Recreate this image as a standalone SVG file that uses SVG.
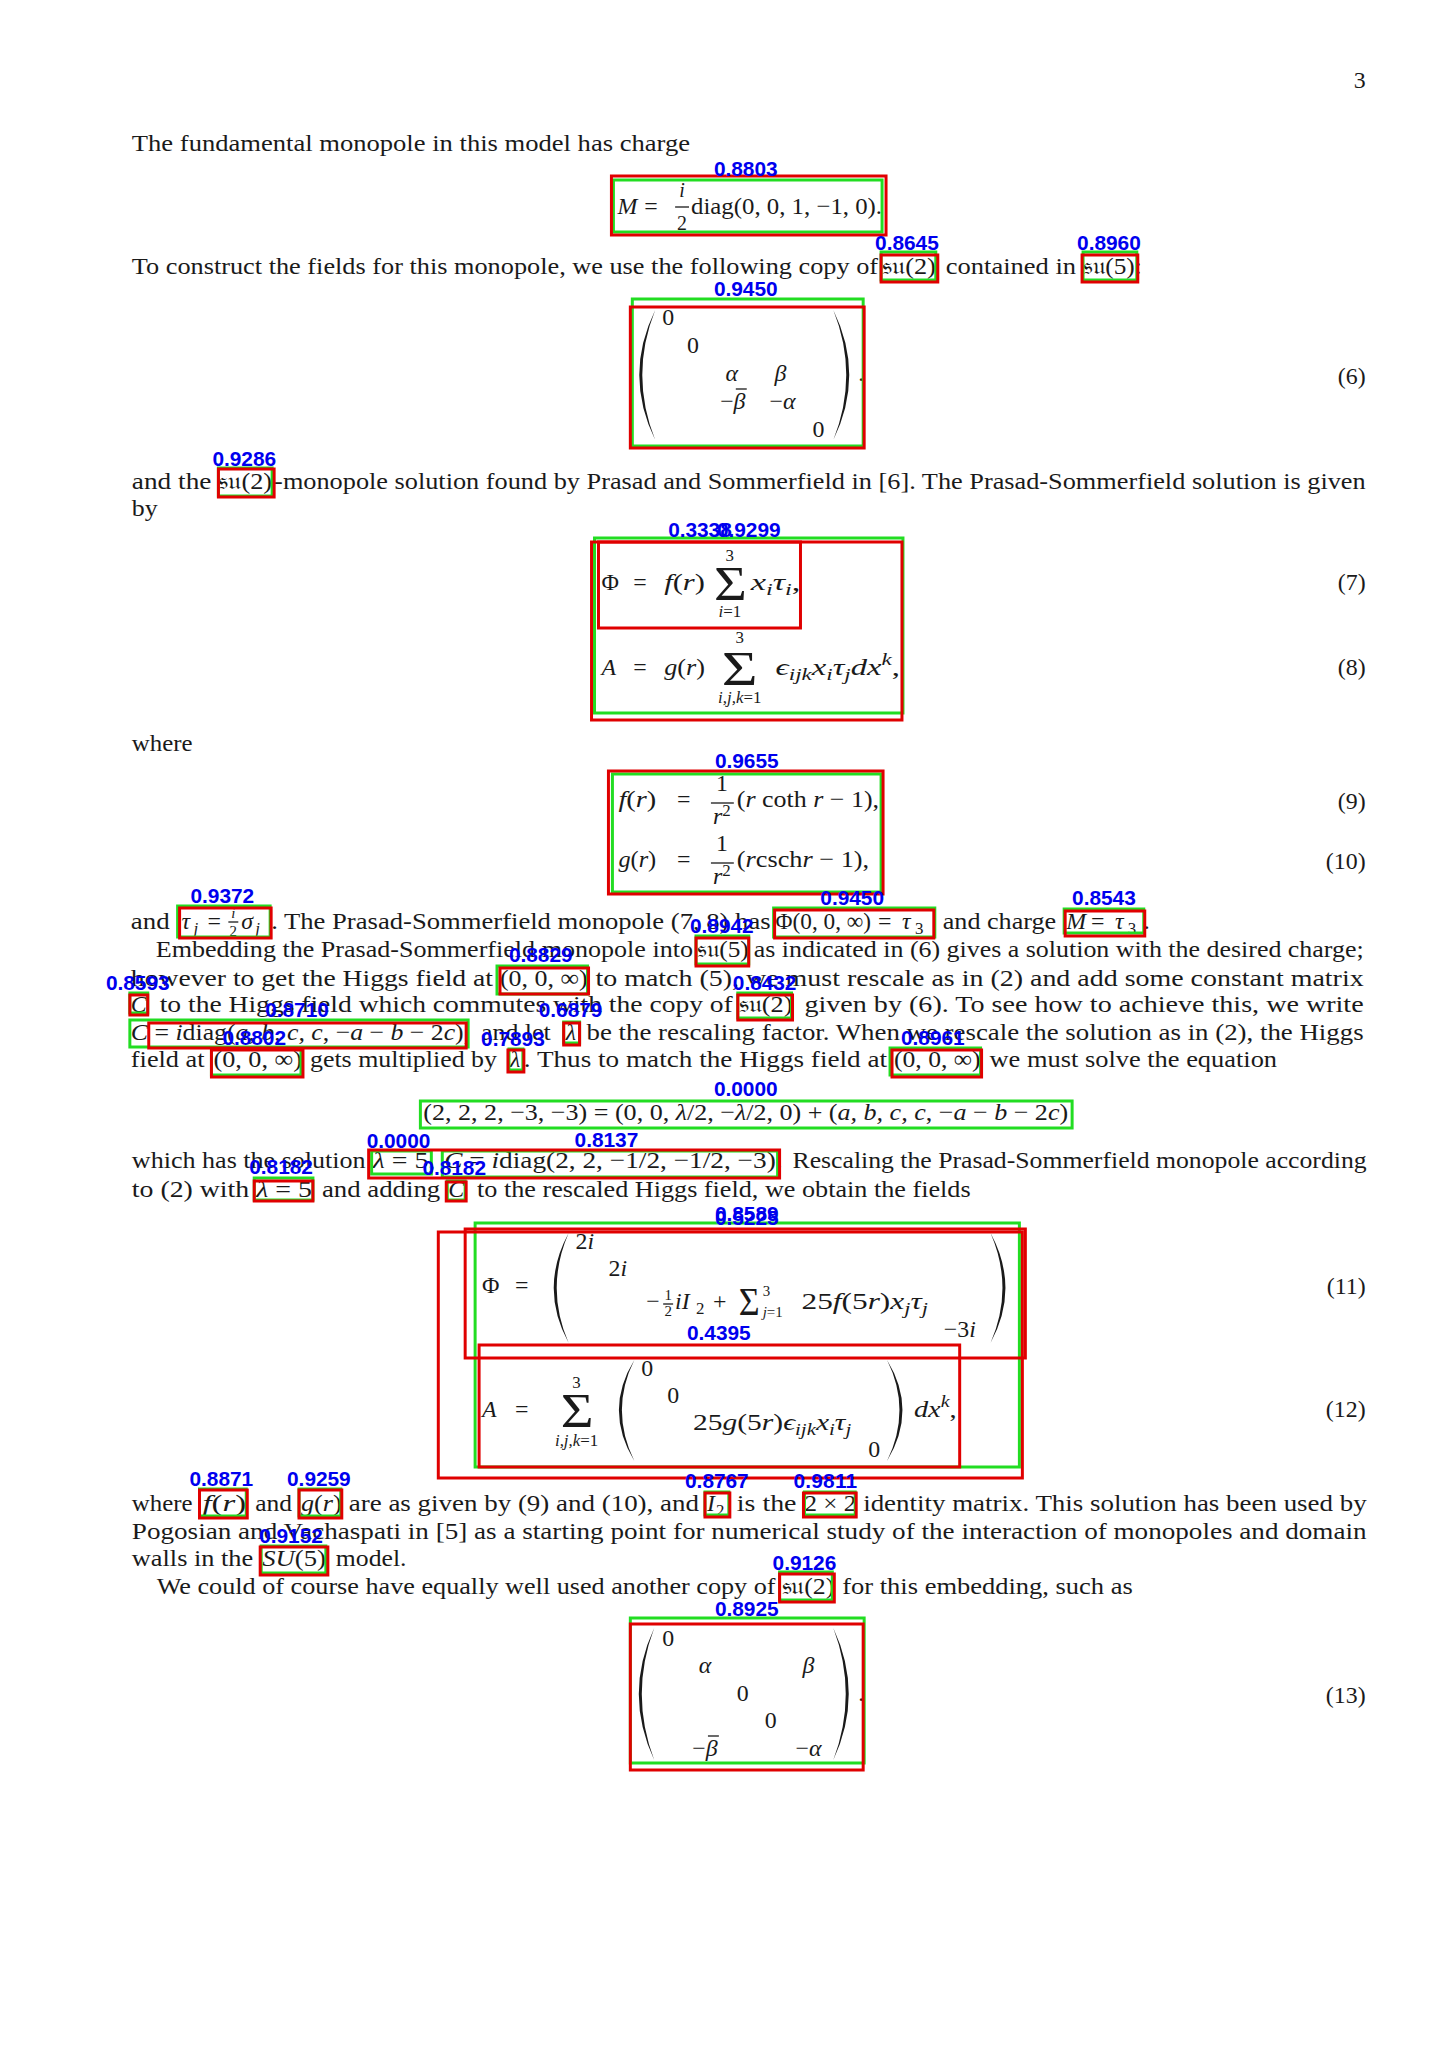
<svg xmlns="http://www.w3.org/2000/svg" width="1447" height="2048" viewBox="0 0 1447 2048">
<style>
.t{font-family:"Liberation Serif","DejaVu Serif","Noto Sans",serif;font-size:24px;fill:#1a1a1a}
.i{font-style:italic}
.sm{font-size:17px}
.xs{font-size:15px}
.m{text-anchor:middle}
.e{text-anchor:end}
.lb{font-family:"Liberation Sans",Arial,sans-serif;font-weight:bold;font-size:21px;fill:#0000ee;text-anchor:middle}
.r{fill:none;stroke:#e00000;stroke-width:3}
.g{fill:none;stroke:#22dd22;stroke-width:3}
.bar{stroke:#1a1a1a;stroke-width:1.3}
.p{fill:#1a1a1a}
</style>
<rect width="1447" height="2048" fill="#ffffff"/>
<g id="page" transform="matrix(0.995,0,0,1,0.5,0)">

<g id="page-number"><text class="t e" x="1372" y="88">3</text></g>

<g id="text-lines">
<text class="t" x="132" y="151" textLength="561" lengthAdjust="spacingAndGlyphs">The fundamental monopole in this model has charge</text>
<text class="t" x="132" y="274" textLength="750" lengthAdjust="spacingAndGlyphs">To construct the fields for this monopole, we use the following copy of</text>
<text class="t" x="886" y="274" textLength="54" lengthAdjust="spacingAndGlyphs">𝔰𝔲(2)</text>
<text class="t" x="950" y="274" textLength="131" lengthAdjust="spacingAndGlyphs">contained in</text>
<text class="t" x="1088" y="274" textLength="59" lengthAdjust="spacingAndGlyphs">𝔰𝔲(5):</text>

<text class="t" x="132" y="489" textLength="80" lengthAdjust="spacingAndGlyphs">and the</text>
<text class="t" x="219" y="489" textLength="54" lengthAdjust="spacingAndGlyphs">𝔰𝔲(2)</text>
<text class="t" x="275" y="489" textLength="1097" lengthAdjust="spacingAndGlyphs">-monopole solution found by Prasad and Sommerfield in [6]. The Prasad-Sommerfield solution is given</text>
<text class="t" x="132" y="516" textLength="26" lengthAdjust="spacingAndGlyphs">by</text>

<text class="t" x="132" y="751" textLength="61" lengthAdjust="spacingAndGlyphs">where</text>

<!-- paragraph row A -->
<text class="t" x="131" y="929" textLength="39" lengthAdjust="spacingAndGlyphs">and</text>
<text class="t i" x="182" y="929">τ</text><text class="t i sm" x="194" y="934">j</text>
<text class="t" x="208" y="929">=</text>
<text class="t i xs m" x="234" y="918">i</text><line class="bar" x1="229" y1="922" x2="239" y2="922"/><text class="t xs m" x="234" y="936">2</text>
<text class="t i" x="242" y="929">σ</text><text class="t i sm" x="256" y="934">j</text>
<text class="t" x="272" y="929" textLength="502" lengthAdjust="spacingAndGlyphs">. The Prasad-Sommerfield monopole (7, 8) has</text>
<text class="t" x="779" y="929" textLength="96" lengthAdjust="spacingAndGlyphs">Φ(0, 0, ∞)</text>
<text class="t" x="882" y="929">=</text>
<text class="t i" x="906" y="929">τ</text><text class="t sm" x="919" y="934">3</text>
<text class="t" x="947" y="929" textLength="114" lengthAdjust="spacingAndGlyphs">and charge</text>
<text class="t i" x="1071" y="929">M</text>
<text class="t" x="1096" y="929">=</text>
<text class="t i" x="1120" y="929">τ</text><text class="t sm" x="1133" y="934">3</text>
<text class="t" x="1149" y="929">.</text>

<!-- row B -->
<text class="t" x="156" y="957" textLength="540" lengthAdjust="spacingAndGlyphs">Embedding the Prasad-Sommerfield monopole into</text>
<text class="t" x="700" y="957" textLength="52" lengthAdjust="spacingAndGlyphs">𝔰𝔲(5)</text>
<text class="t" x="757" y="957" textLength="613" lengthAdjust="spacingAndGlyphs">as indicated in (6) gives a solution with the desired charge;</text>

<!-- row C -->
<text class="t" x="131" y="986" textLength="364" lengthAdjust="spacingAndGlyphs">however to get the Higgs field at</text>
<text class="t" x="502" y="986" textLength="88" lengthAdjust="spacingAndGlyphs">(0, 0, ∞)</text>
<text class="t" x="598" y="986" textLength="772" lengthAdjust="spacingAndGlyphs">to match (5), we must rescale as in (2) and add some constant matrix</text>

<!-- row D -->
<text class="t i" x="131" y="1012">C</text>
<text class="t" x="160" y="1012" textLength="576" lengthAdjust="spacingAndGlyphs">to the Higgs field which commutes with the copy of</text>
<text class="t" x="742" y="1012" textLength="54" lengthAdjust="spacingAndGlyphs">𝔰𝔲(2)</text>
<text class="t" x="808" y="1012" textLength="562" lengthAdjust="spacingAndGlyphs">given by (6).  To see how to achieve this, we write</text>

<!-- row E -->
<text class="t" x="131" y="1040" textLength="341" lengthAdjust="spacingAndGlyphs"><tspan class="i">C</tspan> = <tspan class="i">i</tspan>diag(<tspan class="i">a, b, c, c</tspan>, −<tspan class="i">a</tspan> − <tspan class="i">b</tspan> − 2<tspan class="i">c</tspan>),</text>
<text class="t" x="483" y="1040" textLength="70" lengthAdjust="spacingAndGlyphs">and let</text>
<text class="t i" x="568" y="1040">λ</text>
<text class="t" x="589" y="1040" textLength="781" lengthAdjust="spacingAndGlyphs">be the rescaling factor. When we rescale the solution as in (2), the Higgs</text>

<!-- row F -->
<text class="t" x="131" y="1067" textLength="74" lengthAdjust="spacingAndGlyphs">field at</text>
<text class="t" x="214" y="1067" textLength="89" lengthAdjust="spacingAndGlyphs">(0, 0, ∞)</text>
<text class="t" x="311" y="1067" textLength="188" lengthAdjust="spacingAndGlyphs">gets multiplied by</text>
<text class="t i" x="512" y="1067">λ</text>
<text class="t" x="526" y="1067" textLength="365" lengthAdjust="spacingAndGlyphs">. Thus to match the Higgs field at</text>
<text class="t" x="898" y="1067" textLength="87" lengthAdjust="spacingAndGlyphs">(0, 0, ∞)</text>
<text class="t" x="994" y="1067" textLength="289" lengthAdjust="spacingAndGlyphs">we must solve the equation</text>

<!-- row G -->
<text class="t" x="132" y="1168" textLength="235" lengthAdjust="spacingAndGlyphs">which has the solution</text>
<text class="t" x="374" y="1168" textLength="63" lengthAdjust="spacingAndGlyphs"><tspan class="i">λ</tspan> = 5,</text>
<text class="t" x="446" y="1168" textLength="340" lengthAdjust="spacingAndGlyphs"><tspan class="i">C</tspan> = <tspan class="i">i</tspan>diag(2, 2, −1/2, −1/2, −3).</text>
<text class="t" x="796" y="1168" textLength="577" lengthAdjust="spacingAndGlyphs">Rescaling the Prasad-Sommerfield monopole according</text>

<!-- row H -->
<text class="t" x="132" y="1197" textLength="118" lengthAdjust="spacingAndGlyphs">to (2) with</text>
<text class="t" x="257" y="1197" textLength="56" lengthAdjust="spacingAndGlyphs"><tspan class="i">λ</tspan> = 5</text>
<text class="t" x="323" y="1197" textLength="119" lengthAdjust="spacingAndGlyphs">and adding</text>
<text class="t i" x="450" y="1197">C</text>
<text class="t" x="479" y="1197" textLength="496" lengthAdjust="spacingAndGlyphs">to the rescaled Higgs field, we obtain the fields</text>

<!-- row I -->
<text class="t" x="132" y="1511" textLength="61" lengthAdjust="spacingAndGlyphs">where</text>
<text class="t" x="203" y="1511" textLength="44" lengthAdjust="spacingAndGlyphs"><tspan class="i">f</tspan>(<tspan class="i">r</tspan>)</text>
<text class="t" x="256" y="1511" textLength="37" lengthAdjust="spacingAndGlyphs">and</text>
<text class="t" x="302" y="1511" textLength="41" lengthAdjust="spacingAndGlyphs"><tspan class="i">g</tspan>(<tspan class="i">r</tspan>)</text>
<text class="t" x="350" y="1511" textLength="352" lengthAdjust="spacingAndGlyphs">are as given by (9) and (10), and</text>
<text class="t i" x="710" y="1511">I</text><text class="t sm" x="719" y="1516">2</text>
<text class="t" x="740" y="1511" textLength="60" lengthAdjust="spacingAndGlyphs">is the</text>
<text class="t" x="808" y="1511" textLength="52" lengthAdjust="spacingAndGlyphs">2 × 2</text>
<text class="t" x="867" y="1511" textLength="506" lengthAdjust="spacingAndGlyphs">identity matrix. This solution has been used by</text>

<!-- row J -->
<text class="t" x="132" y="1539" textLength="1241" lengthAdjust="spacingAndGlyphs">Pogosian and Vachaspati in [5] as a starting point for numerical study of the interaction of monopoles and domain</text>

<!-- row K -->
<text class="t" x="132" y="1566" textLength="122" lengthAdjust="spacingAndGlyphs">walls in the</text>
<text class="t" x="263" y="1566" textLength="64" lengthAdjust="spacingAndGlyphs"><tspan class="i">SU</tspan>(5)</text>
<text class="t" x="337" y="1566" textLength="71" lengthAdjust="spacingAndGlyphs">model.</text>

<!-- row L -->
<text class="t" x="157" y="1594" textLength="622" lengthAdjust="spacingAndGlyphs">We could of course have equally well used another copy of</text>
<text class="t" x="785" y="1594" textLength="53" lengthAdjust="spacingAndGlyphs">𝔰𝔲(2)</text>
<text class="t" x="846" y="1594" textLength="292" lengthAdjust="spacingAndGlyphs">for this embedding, such as</text>
</g>

<g id="eq-charge">
<text class="t i" x="620" y="214">M</text>
<text class="t" x="647" y="214">=</text>
<text class="t i m" x="685" y="197" style="font-size:20px">i</text>
<line class="bar" x1="678" y1="207" x2="692" y2="207"/>
<text class="t m" x="685" y="230" style="font-size:20px">2</text>
<text class="t" x="694" y="214" textLength="192" lengthAdjust="spacingAndGlyphs">diag(0, 0, 1, −1, 0).</text>
</g>

<g id="eq-6">
<path class="p" d="M658,310 Q626,375 658,440 Q632,375 658,310 Z"/>
<path class="p" d="M837,310 Q869,375 837,440 Q863,375 837,310 Z"/>
<text class="t m" x="671" y="325">0</text>
<text class="t m" x="696" y="353">0</text>
<text class="t i m" x="735" y="381">α</text>
<text class="t i m" x="784" y="381">β</text>
<text class="t m" x="736" y="409"><tspan>−</tspan><tspan class="i">β</tspan></text>
<line class="bar" x1="739" y1="389" x2="750" y2="389"/>
<text class="t m" x="786" y="409"><tspan>−</tspan><tspan class="i">α</tspan></text>
<text class="t m" x="822" y="437">0</text>
<text class="t" x="862" y="381">.</text>
<text class="t e" x="1372" y="384">(6)</text>
</g>

<g id="eq-7-8">
<text class="t" x="604" y="590">Φ</text>
<text class="t" x="636" y="590">=</text>
<text class="t" x="667" y="590" textLength="41" lengthAdjust="spacingAndGlyphs"><tspan class="i">f</tspan>(<tspan class="i">r</tspan>)</text>
<text class="t" x="717" y="600" style="font-size:48px" textLength="33" lengthAdjust="spacingAndGlyphs">Σ</text>
<text class="t sm m" x="733" y="561">3</text>
<text class="t i sm m" x="733" y="617">i<tspan font-style="normal">=1</tspan></text>
<text class="t" x="754" y="590" textLength="50" lengthAdjust="spacingAndGlyphs"><tspan class="i">x</tspan><tspan class="i sm" dy="5">i</tspan><tspan class="i" dy="-5">τ</tspan><tspan class="i sm" dy="5">i</tspan><tspan dy="-5">,</tspan></text>
<text class="t e" x="1372" y="590">(7)</text>

<text class="t i" x="604" y="675">A</text>
<text class="t" x="636" y="675">=</text>
<text class="t" x="667" y="675" textLength="41" lengthAdjust="spacingAndGlyphs"><tspan class="i">g</tspan>(<tspan class="i">r</tspan>)</text>
<text class="t" x="725" y="685" style="font-size:48px" textLength="36" lengthAdjust="spacingAndGlyphs">Σ</text>
<text class="t sm m" x="743" y="643">3</text>
<text class="t i sm m" x="743" y="703">i,j,k<tspan font-style="normal">=1</tspan></text>
<text class="t" x="779" y="675" textLength="125" lengthAdjust="spacingAndGlyphs"><tspan class="i">ϵ</tspan><tspan class="i sm" dy="5">ijk</tspan><tspan class="i" dy="-5">x</tspan><tspan class="i sm" dy="5">i</tspan><tspan class="i" dy="-5">τ</tspan><tspan class="i sm" dy="5">j</tspan><tspan class="i" dy="-5">dx</tspan><tspan class="i sm" dy="-10">k</tspan><tspan dy="10">,</tspan></text>
<text class="t e" x="1372" y="675">(8)</text>
</g>

<g id="eq-9-10">
<text class="t" x="621" y="807" textLength="38" lengthAdjust="spacingAndGlyphs"><tspan class="i">f</tspan>(<tspan class="i">r</tspan>)</text>
<text class="t" x="680" y="807">=</text>
<text class="t m" x="725" y="791">1</text>
<line class="bar" x1="714" y1="803" x2="737" y2="803"/>
<text class="t m" x="725" y="824"><tspan class="i">r</tspan><tspan class="sm" dy="-8">2</tspan></text>
<text class="t" x="740" y="807" textLength="143" lengthAdjust="spacingAndGlyphs">(<tspan class="i">r</tspan> coth <tspan class="i">r</tspan> − 1),</text>
<text class="t e" x="1372" y="809">(9)</text>

<text class="t" x="621" y="867" textLength="38" lengthAdjust="spacingAndGlyphs"><tspan class="i">g</tspan>(<tspan class="i">r</tspan>)</text>
<text class="t" x="680" y="867">=</text>
<text class="t m" x="725" y="851">1</text>
<line class="bar" x1="714" y1="863" x2="737" y2="863"/>
<text class="t m" x="725" y="884"><tspan class="i">r</tspan><tspan class="sm" dy="-8">2</tspan></text>
<text class="t" x="740" y="867" textLength="133" lengthAdjust="spacingAndGlyphs">(<tspan class="i">r</tspan>csch<tspan class="i">r</tspan> − 1),</text>
<text class="t e" x="1372" y="869">(10)</text>
</g>

<g id="eq-lambda">
<text class="t" x="425" y="1120" textLength="648" lengthAdjust="spacingAndGlyphs">(2, 2, 2, −3, −3) = (0, 0, <tspan class="i">λ</tspan>/2, −<tspan class="i">λ</tspan>/2, 0) + (<tspan class="i">a, b, c, c</tspan>, −<tspan class="i">a</tspan> − <tspan class="i">b</tspan> − 2<tspan class="i">c</tspan>)</text>
</g>

<g id="eq-11">
<text class="t" x="484" y="1293">Φ</text>
<text class="t" x="517" y="1293">=</text>
<path class="p" d="M571,1233 Q541,1288 571,1343 Q547,1288 571,1233 Z"/>
<path class="p" d="M995,1233 Q1025,1288 995,1343 Q1019,1288 995,1233 Z"/>
<text class="t" x="578" y="1249">2<tspan class="i">i</tspan></text>
<text class="t" x="611" y="1276">2<tspan class="i">i</tspan></text>
<text class="t" x="649" y="1309">−</text>
<text class="t xs m" x="671" y="1300">1</text>
<line class="bar" x1="666" y1="1304" x2="676" y2="1304"/>
<text class="t xs m" x="671" y="1316">2</text>
<text class="t i" x="678" y="1309">iI</text><text class="t sm" x="699" y="1314">2</text>
<text class="t" x="716" y="1309">+</text>
<text class="t" x="742" y="1315" style="font-size:40px" textLength="21" lengthAdjust="spacingAndGlyphs">Σ</text>
<text class="t xs" x="766" y="1296">3</text>
<text class="t i xs" x="766" y="1317">j<tspan font-style="normal">=1</tspan></text>
<text class="t" x="805" y="1309" textLength="127" lengthAdjust="spacingAndGlyphs">25<tspan class="i">f</tspan>(5<tspan class="i">r</tspan>)<tspan class="i">x</tspan><tspan class="i sm" dy="5">j</tspan><tspan class="i" dy="-5">τ</tspan><tspan class="i sm" dy="5">j</tspan></text>
<text class="t" x="948" y="1337">−3<tspan class="i">i</tspan></text>
<text class="t e" x="1372" y="1294">(11)</text>
</g>

<g id="eq-12">
<text class="t i" x="484" y="1417">A</text>
<text class="t" x="517" y="1417">=</text>
<text class="t" x="563" y="1427" style="font-size:48px" textLength="33" lengthAdjust="spacingAndGlyphs">Σ</text>
<text class="t sm m" x="579" y="1388">3</text>
<text class="t i sm m" x="579" y="1446">i,j,k<tspan font-style="normal">=1</tspan></text>
<path class="p" d="M637,1360 Q606,1410 637,1461 Q612,1410 637,1360 Z"/>
<path class="p" d="M891,1360 Q922,1410 891,1461 Q916,1410 891,1360 Z"/>
<text class="t m" x="650" y="1376">0</text>
<text class="t m" x="676" y="1403">0</text>
<text class="t" x="696" y="1430" textLength="159" lengthAdjust="spacingAndGlyphs">25<tspan class="i">g</tspan>(5<tspan class="i">r</tspan>)<tspan class="i">ϵ</tspan><tspan class="i sm" dy="5">ijk</tspan><tspan class="i" dy="-5">x</tspan><tspan class="i sm" dy="5">i</tspan><tspan class="i" dy="-5">τ</tspan><tspan class="i sm" dy="5">j</tspan></text>
<text class="t m" x="878" y="1457">0</text>
<text class="t" x="918" y="1417" textLength="43" lengthAdjust="spacingAndGlyphs"><tspan class="i">dx</tspan><tspan class="i sm" dy="-10">k</tspan><tspan dy="10">,</tspan></text>
<text class="t e" x="1372" y="1417">(12)</text>
</g>

<g id="eq-13">
<path class="p" d="M657,1628 Q626,1694 657,1760 Q632,1694 657,1628 Z"/>
<path class="p" d="M837,1628 Q868,1694 837,1760 Q862,1694 837,1628 Z"/>
<text class="t m" x="671" y="1646">0</text>
<text class="t i m" x="708" y="1673">α</text>
<text class="t i m" x="812" y="1673">β</text>
<text class="t m" x="746" y="1701">0</text>
<text class="t m" x="774" y="1728">0</text>
<text class="t m" x="708" y="1756"><tspan>−</tspan><tspan class="i">β</tspan></text>
<line class="bar" x1="711" y1="1736" x2="722" y2="1736"/>
<text class="t m" x="812" y="1756"><tspan>−</tspan><tspan class="i">α</tspan></text>
<text class="t" x="862" y="1701">.</text>
<text class="t e" x="1372" y="1703">(13)</text>
</g>

<g id="boxes-green">
<rect class="g" x="616" y="180" width="270" height="52"/>
<rect class="g" x="885" y="252" width="55" height="28"/>
<rect class="g" x="1088" y="252" width="54" height="28"/>
<rect class="g" x="635" y="299" width="232" height="147"/>
<rect class="g" x="219" y="468" width="54" height="28"/>
<rect class="g" x="597" y="538" width="310" height="175"/>
<rect class="g" x="615" y="774" width="270" height="118"/>
<rect class="g" x="178" y="906" width="93" height="31"/>
<rect class="g" x="777" y="908" width="162" height="29"/>
<rect class="g" x="1069" y="909" width="80" height="24"/>
<rect class="g" x="699" y="936" width="53" height="28"/>
<rect class="g" x="499" y="966" width="91" height="28"/>
<rect class="g" x="130" y="993" width="18" height="20"/>
<rect class="g" x="741" y="993" width="54" height="25"/>
<rect class="g" x="130" y="1020" width="340" height="27"/>
<rect class="g" x="566" y="1022" width="16" height="21"/>
<rect class="g" x="212" y="1048" width="90" height="27"/>
<rect class="g" x="511" y="1049" width="14" height="21"/>
<rect class="g" x="894" y="1048" width="91" height="27"/>
<rect class="g" x="422" y="1101" width="655" height="27"/>
<rect class="g" x="373" y="1151" width="60" height="23"/>
<rect class="g" x="444" y="1151" width="337" height="26"/>
<rect class="g" x="255" y="1178" width="59" height="22"/>
<rect class="g" x="449" y="1181" width="18" height="19"/>
<rect class="g" x="477" y="1223" width="547" height="244"/>
<rect class="g" x="200" y="1489" width="47" height="27"/>
<rect class="g" x="300" y="1489" width="42" height="27"/>
<rect class="g" x="708" y="1492" width="24" height="23"/>
<rect class="g" x="808" y="1492" width="51" height="23"/>
<rect class="g" x="262" y="1546" width="65" height="27"/>
<rect class="g" x="783" y="1572" width="53" height="28"/>
<rect class="g" x="633" y="1618" width="235" height="145"/>
</g>

<g id="boxes-red">
<rect class="r" x="614" y="176" width="276" height="59"/>
<rect class="r" x="885" y="255" width="57" height="27"/>
<rect class="r" x="1087" y="255" width="56" height="27"/>
<rect class="r" x="633" y="307" width="235" height="141"/>
<rect class="r" x="219" y="469" width="56" height="28"/>
<rect class="r" x="594" y="542" width="312" height="178"/>
<rect class="r" x="601" y="542" width="203" height="86"/>
<rect class="r" x="611" y="771" width="276" height="123"/>
<rect class="r" x="180" y="908" width="92" height="30"/>
<rect class="r" x="778" y="910" width="160" height="28"/>
<rect class="r" x="1070" y="911" width="80" height="25"/>
<rect class="r" x="699" y="938" width="53" height="28"/>
<rect class="r" x="502" y="968" width="89" height="26"/>
<rect class="r" x="130" y="995" width="18" height="20"/>
<rect class="r" x="741" y="995" width="55" height="25"/>
<rect class="r" x="149" y="1023" width="319" height="25"/>
<rect class="r" x="566" y="1023" width="16" height="22"/>
<rect class="r" x="212" y="1050" width="92" height="27"/>
<rect class="r" x="510" y="1050" width="16" height="22"/>
<rect class="r" x="896" y="1050" width="90" height="27"/>
<rect class="r" x="370" y="1150" width="413" height="28"/>
<rect class="r" x="255" y="1181" width="59" height="20"/>
<rect class="r" x="448" y="1182" width="20" height="19"/>
<rect class="r" x="467" y="1229" width="563" height="129"/>
<rect class="r" x="440" y="1232" width="587" height="246"/>
<rect class="r" x="481" y="1345" width="483" height="122"/>
<rect class="r" x="200" y="1490" width="48" height="28"/>
<rect class="r" x="300" y="1490" width="43" height="28"/>
<rect class="r" x="708" y="1493" width="25" height="24"/>
<rect class="r" x="807" y="1493" width="53" height="24"/>
<rect class="r" x="261" y="1547" width="68" height="28"/>
<rect class="r" x="783" y="1574" width="55" height="28"/>
<rect class="r" x="633" y="1624" width="234" height="146"/>
</g>

<g id="labels">
<text class="lb" x="749" y="176" textLength="64">0.8803</text>
<text class="lb" x="911" y="250" textLength="64">0.8645</text>
<text class="lb" x="1114" y="250" textLength="64">0.8960</text>
<text class="lb" x="749" y="296" textLength="64">0.9450</text>
<text class="lb" x="245" y="466" textLength="64">0.9286</text>
<text class="lb" x="703" y="537" textLength="64">0.3338</text>
<text class="lb" x="752" y="537" textLength="64">0.9299</text>
<text class="lb" x="750" y="768" textLength="64">0.9655</text>
<text class="lb" x="223" y="903" textLength="64">0.9372</text>
<text class="lb" x="856" y="905" textLength="64">0.9450</text>
<text class="lb" x="1109" y="905" textLength="64">0.8543</text>
<text class="lb" x="725" y="933" textLength="64">0.8942</text>
<text class="lb" x="543" y="962" textLength="64">0.8829</text>
<text class="lb" x="138" y="990" textLength="64">0.8593</text>
<text class="lb" x="768" y="990" textLength="64">0.8432</text>
<text class="lb" x="298" y="1017" textLength="64">0.8710</text>
<text class="lb" x="573" y="1017" textLength="64">0.6879</text>
<text class="lb" x="515" y="1046" textLength="64">0.7893</text>
<text class="lb" x="255" y="1045" textLength="64">0.8802</text>
<text class="lb" x="937" y="1045" textLength="64">0.8961</text>
<text class="lb" x="749" y="1096" textLength="64">0.0000</text>
<text class="lb" x="400" y="1148" textLength="64">0.0000</text>
<text class="lb" x="609" y="1147" textLength="64">0.8137</text>
<text class="lb" x="282" y="1174" textLength="64">0.8182</text>
<text class="lb" x="456" y="1175" textLength="64">0.8182</text>
<text class="lb" x="750" y="1221" textLength="64">0.8589</text>
<text class="lb" x="750" y="1225" textLength="64">0.5225</text>
<text class="lb" x="722" y="1340" textLength="64">0.4395</text>
<text class="lb" x="222" y="1486" textLength="64">0.8871</text>
<text class="lb" x="320" y="1486" textLength="64">0.9259</text>
<text class="lb" x="720" y="1488" textLength="64">0.8767</text>
<text class="lb" x="829" y="1488" textLength="64">0.9811</text>
<text class="lb" x="292" y="1543" textLength="64">0.9152</text>
<text class="lb" x="808" y="1570" textLength="64">0.9126</text>
<text class="lb" x="750" y="1616" textLength="64">0.8925</text>
</g>
</g>
</svg>
